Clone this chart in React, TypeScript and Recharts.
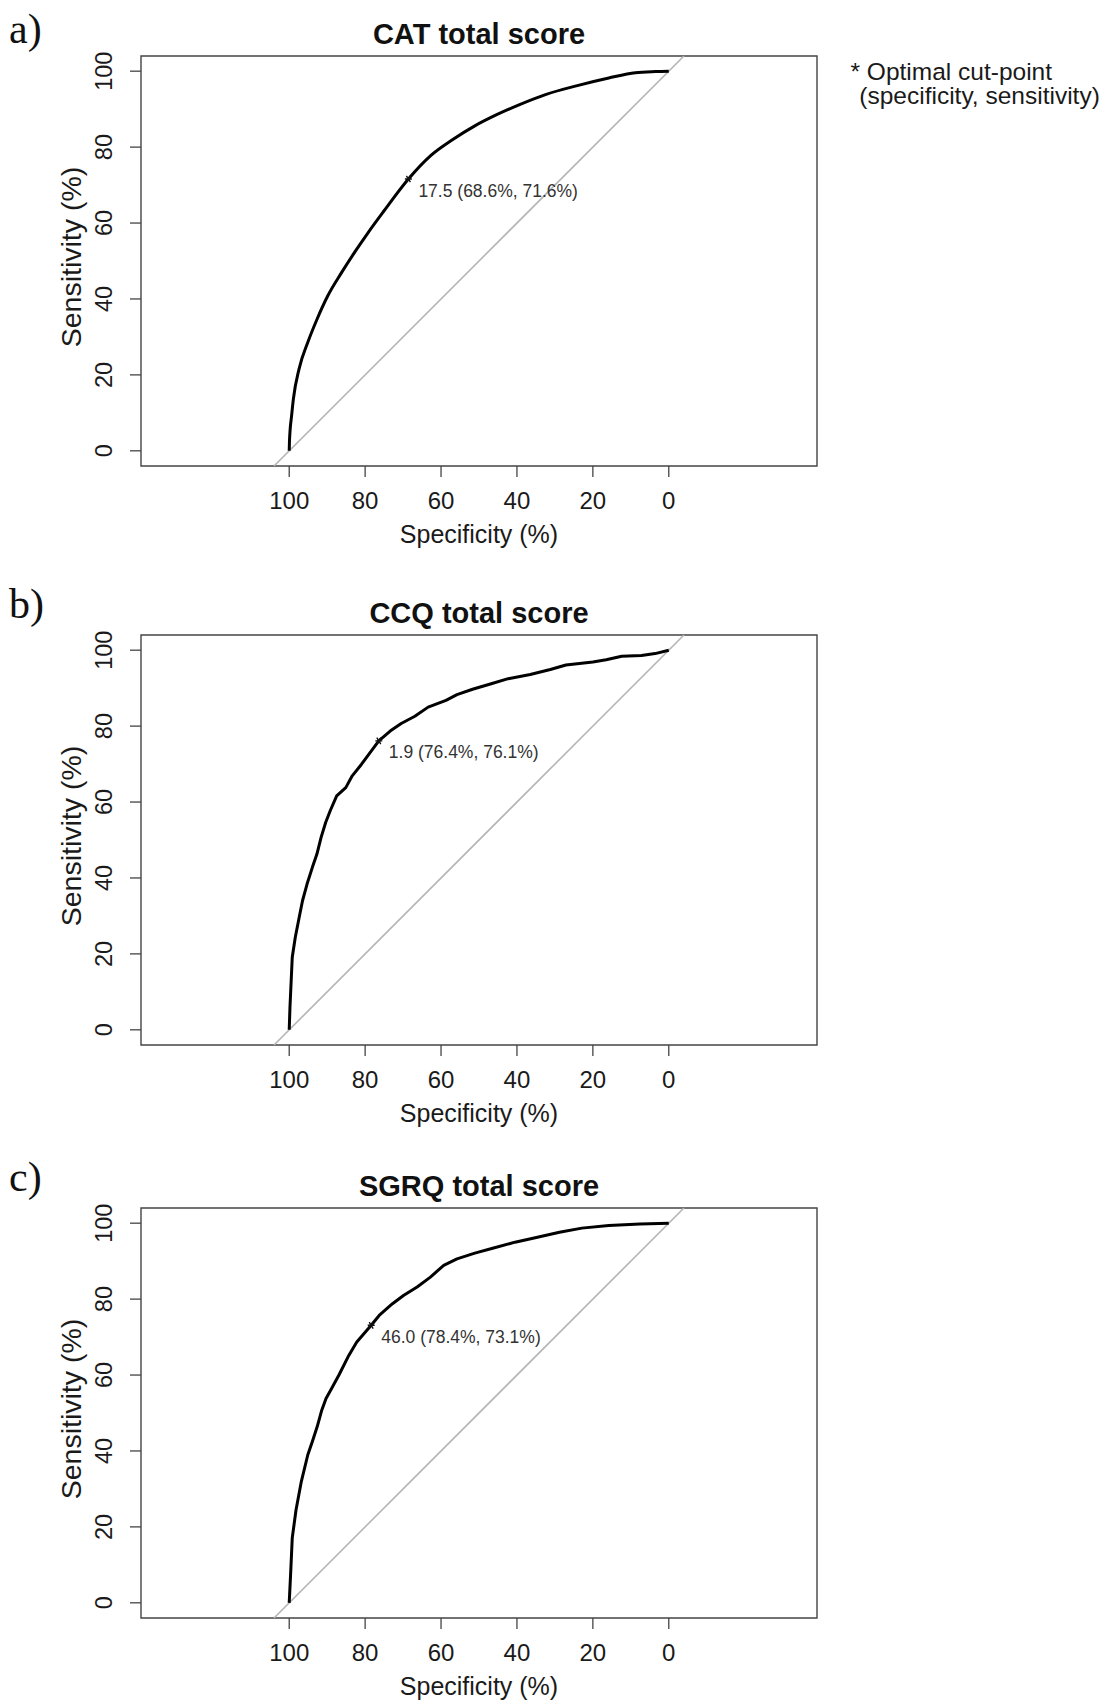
import { ComposedChart, Line, XAxis, YAxis, ReferenceLine, ReferenceArea, ReferenceDot } from "recharts";

// ROC curves (specificity %, sensitivity %)
const catSpec = [100, 99.95, 99.8, 99.4, 98.9, 97.4, 95.1, 92.7, 89.8, 86.3, 82.7, 79.2, 75.1, 68.6, 62.8, 56.9, 51.1, 45.2, 39.3, 32.3, 24.1, 15.8, 8.8, 3.5, 0];
const catSens = [0, 2, 5, 9, 13.7, 21.6, 28.6, 34.6, 40.9, 46.8, 52.4, 57.5, 63.1, 71.6, 77.7, 82, 85.6, 88.6, 91.2, 93.9, 96.2, 98.2, 99.6, 99.9, 100];

const ccqSpec = [100, 99.8, 99.2, 98.4, 97.2, 96.5, 95.3, 93.9, 92.7, 91.6, 90.4, 89.2, 87.5, 85.1, 83.4, 81, 78.7, 76.4, 73.4, 70.5, 66.9, 63.4, 58.7, 55.8, 51.7, 47, 42.3, 36.5, 31.2, 27.1, 20, 16.5, 12.4, 7.2, 3.6, 0];
const ccqSens = [0, 6, 19.1, 24.4, 30.5, 34, 38.4, 42.8, 46.3, 50.7, 54.6, 57.7, 61.6, 63.8, 66.9, 69.9, 73, 76.1, 78.7, 80.7, 82.6, 85, 86.8, 88.3, 89.7, 91.1, 92.5, 93.6, 94.9, 96.1, 96.9, 97.5, 98.4, 98.6, 99.1, 100];

const sgrqSpec = [100, 99.6, 99.2, 98.2, 96.8, 95.1, 93.9, 92.6, 91.5, 90.3, 88.8, 86.9, 84.5, 82.2, 78.4, 76.3, 72.8, 69.8, 66.3, 62.8, 59.3, 55.8, 51.1, 46.4, 40.5, 34.6, 28.8, 22.9, 15.8, 7.6, 0];
const sgrqSens = [0, 8.3, 17.1, 24.5, 32, 39, 42.5, 46.5, 50.5, 53.8, 56.5, 60, 64.8, 68.7, 73.1, 75.7, 78.8, 81, 83.2, 85.8, 88.9, 90.6, 92.1, 93.4, 95, 96.3, 97.6, 98.7, 99.4, 99.8, 100];

const panelTitles = ["CAT total score", "CCQ total score", "SGRQ total score"];
const panelLetters = ["a)", "b)", "c)"];
const curveTypes = ["monotoneX", "linear", "linear"];
const cutThreshold = ["17.5", "1.9", "46.0"];
const cutSpec = [68.6, 76.4, 78.4];
const cutSens = [71.6, 76.1, 73.1];
const axisTicks = [0, 20, 40, 60, 80, 100];

const W = 1105;
const CH = 575;
const panelTops = [0, 579, 1152];
const letterBase = [43, 618, 1191];
const X_DOMAIN: [number, number] = [-39.05, 139.05];
const Y_DOMAIN: [number, number] = [-4, 104];
const SANS = '"Liberation Sans", Arial, sans-serif';
const SERIF = '"Liberation Serif", "Times New Roman", serif';

const YTick = (props: any) => {
  const { x, y, payload } = props;
  return (
    <text transform={`translate(${x - 26},${y}) rotate(-90)`} textAnchor="middle" dy="0.35em"
      fontFamily={SANS} fontSize={23.5} fill="#1a1a1a">
      {payload.value}
    </text>
  );
};

const XTick = (props: any) => {
  const { x, y, payload } = props;
  return (
    <text x={x} y={y + 31.5} textAnchor="middle" fontFamily={SANS} fontSize={24} fill="#1a1a1a">
      {payload.value}
    </text>
  );
};

function cutShape(label: string) {
  return (p: any) => (
    <g>
      <path
        d={`M${p.cx - 3.5},${p.cy} L${p.cx + 3.5},${p.cy} M${p.cx - 2},${p.cy - 3.2} L${p.cx + 2},${p.cy + 3.2} M${p.cx + 2},${p.cy - 3.2} L${p.cx - 2},${p.cy + 3.2}`}
        stroke="#111" strokeWidth={1.4} />
      <text x={p.cx + 10} y={p.cy + 17.5} fontFamily={SANS} fontSize={17.5} fill="#333">{label}</text>
    </g>
  );
}

function RocPanel({ spec, sens, i }: { spec: number[]; sens: number[]; i: number }) {
  const data = spec.map((s, k) => ({ spec: s, sens: sens[k] }));
  const label = `${cutThreshold[i]} (${cutSpec[i].toFixed(1)}%, ${cutSens[i].toFixed(1)}%)`;
  return (
    <div style={{ position: "absolute", left: 0, top: panelTops[i] }}>
      <ComposedChart width={W} height={CH} data={data} margin={{ top: 56, right: 288, left: 61, bottom: 29 }}>
        <XAxis type="number" dataKey="spec" domain={X_DOMAIN} reversed allowDataOverflow ticks={axisTicks}
          interval={0} tickSize={11} tickMargin={0} axisLine={false} height={80}
          tickLine={{ stroke: "#444", strokeWidth: 1.3 }} tick={<XTick />} />
        <YAxis type="number" dataKey="sens" domain={Y_DOMAIN} allowDataOverflow ticks={axisTicks}
          interval={0} tickSize={11} tickMargin={0} axisLine={false} width={80}
          tickLine={{ stroke: "#444", strokeWidth: 1.3 }} tick={<YTick />} />
        <ReferenceArea x1={X_DOMAIN[0]} x2={X_DOMAIN[1]} y1={Y_DOMAIN[0]} y2={Y_DOMAIN[1]}
          fill="none" stroke="#444" strokeWidth={1.4} ifOverflow="visible" />
        <ReferenceLine segment={[{ x: 100 - Y_DOMAIN[0], y: Y_DOMAIN[0] }, { x: 100 - Y_DOMAIN[1], y: Y_DOMAIN[1] }]}
          stroke="#b5b5b5" strokeWidth={1.6} ifOverflow="visible" />
        <Line type={curveTypes[i] as any} dataKey="sens" stroke="#000" strokeWidth={3} dot={false} activeDot={false}
          strokeLinejoin="round" isAnimationActive={false} />
        <ReferenceDot x={cutSpec[i]} y={cutSens[i]} ifOverflow="visible" shape={cutShape(label)} />
      </ComposedChart>
    </div>
  );
}

export default function App() {
  const curves = [
    [catSpec, catSens],
    [ccqSpec, ccqSens],
    [sgrqSpec, sgrqSens],
  ];
  return (
    <div style={{ position: "absolute", left: 0, top: 0, width: W, height: 1706, background: "#fff" }}>
      {curves.map(([s, v], i) => (
        <RocPanel key={i} spec={s} sens={v} i={i} />
      ))}
      <svg width={W} height={1706} style={{ position: "absolute", left: 0, top: 0, pointerEvents: "none" }}>
        {panelTops.map((t, i) => (
          <g key={i}>
            <text x={9} y={letterBase[i]} fontFamily={SERIF} fontSize={42} fill="#111">{panelLetters[i]}</text>
            <text x={479} y={t + 43.5} textAnchor="middle" fontFamily={SANS} fontSize={29} fontWeight="bold" fill="#111">
              {panelTitles[i]}
            </text>
            <text x={479} y={t + 543} textAnchor="middle" fontFamily={SANS} fontSize={25} fill="#1a1a1a">
              Specificity (%)
            </text>
            <text transform={`translate(71,${t + 257}) rotate(-90)`} textAnchor="middle" dy="0.35em"
              fontFamily={SANS} fontSize={28.5} fill="#1a1a1a">
              Sensitivity (%)
            </text>
          </g>
        ))}
        <text x={850.5} y={80} fontFamily={SANS} fontSize={24.5} fill="#1a1a1a">* Optimal cut-point</text>
        <text x={859.3} y={104} fontFamily={SANS} fontSize={24.5} fill="#1a1a1a">(specificity, sensitivity)</text>
      </svg>
    </div>
  );
}
